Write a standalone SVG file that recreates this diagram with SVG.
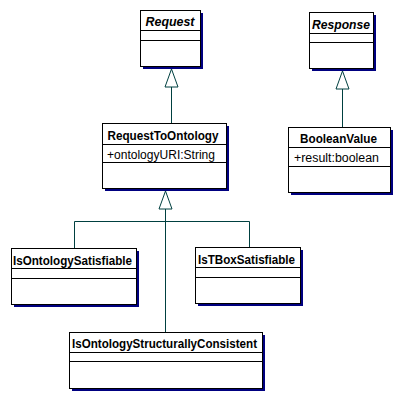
<svg xmlns="http://www.w3.org/2000/svg" width="403" height="400" viewBox="0 0 403 400">
<style>
.sh{fill:#000080}
.bx{fill:#fff;stroke:#000;stroke-width:1}
.dv{stroke:#000;stroke-width:1}
.nm{font-family:"Liberation Sans",Arial,sans-serif;font-size:12px;font-weight:bold;text-anchor:middle}
.it{font-style:italic}
.at{font-family:"Liberation Sans",Arial,sans-serif;font-size:12px}
.cn{stroke:#004040;stroke-width:1;fill:none}
.tr{stroke:#004040;stroke-width:1;fill:#fff}
</style>
<rect width="403" height="400" fill="#fff"/>
<g id="connectors">
<line class="cn" x1="171.5" y1="87" x2="171.5" y2="123"/>
<polygon class="tr" points="171.5,69 165,87 178,87"/>
<line class="cn" x1="342.5" y1="89" x2="342.5" y2="127"/>
<polygon class="tr" points="342.5,71 336,89 349,89"/>
<line class="cn" x1="165.5" y1="209" x2="165.5" y2="332"/>
<polyline class="cn" points="74.5,248 74.5,221.5 249.5,221.5 249.5,247"/>
<polygon class="tr" points="165.5,191 159,209 172,209"/>
</g>
<g id="Request">
<rect class="sh" x="143" y="13" width="60" height="56"/>
<rect class="bx" x="140.5" y="10.5" width="60" height="56"/>
<line class="dv" x1="140.5" y1="30.5" x2="200.5" y2="30.5"/>
<line class="dv" x1="140.5" y1="40.5" x2="200.5" y2="40.5"/>
<text class="nm it" x="170" y="26" textLength="49" lengthAdjust="spacingAndGlyphs">Request</text>
</g>
<g id="Response">
<rect class="sh" x="312" y="15" width="64" height="56"/>
<rect class="bx" x="309.5" y="12.5" width="64" height="56"/>
<line class="dv" x1="309.5" y1="33.5" x2="373.5" y2="33.5"/>
<line class="dv" x1="309.5" y1="42.5" x2="373.5" y2="42.5"/>
<text class="nm it" x="341" y="29" textLength="58" lengthAdjust="spacingAndGlyphs">Response</text>
</g>
<g id="RequestToOntology">
<rect class="sh" x="105" y="126" width="124" height="65"/>
<rect class="bx" x="102.5" y="123.5" width="124" height="65"/>
<line class="dv" x1="102.5" y1="144.5" x2="226.5" y2="144.5"/>
<line class="dv" x1="102.5" y1="162.5" x2="226.5" y2="162.5"/>
<text class="nm" x="163" y="140" textLength="111" lengthAdjust="spacingAndGlyphs">RequestToOntology</text>
<text class="at" x="107" y="159" textLength="108" lengthAdjust="spacingAndGlyphs">+ontologyURI:String</text>
</g>
<g id="BooleanValue">
<rect class="sh" x="291" y="130" width="102" height="65"/>
<rect class="bx" x="288.5" y="127.5" width="102" height="65"/>
<line class="dv" x1="288.5" y1="147.5" x2="390.5" y2="147.5"/>
<line class="dv" x1="288.5" y1="166.5" x2="390.5" y2="166.5"/>
<text class="nm" x="338.5" y="143" textLength="77" lengthAdjust="spacingAndGlyphs">BooleanValue</text>
<text class="at" x="294" y="162" textLength="85" lengthAdjust="spacingAndGlyphs">+result:boolean</text>
</g>
<g id="IsOntologySatisfiable">
<rect class="sh" x="14" y="251" width="125" height="56"/>
<rect class="bx" x="11.5" y="248.5" width="125" height="56"/>
<line class="dv" x1="11.5" y1="268.5" x2="136.5" y2="268.5"/>
<line class="dv" x1="11.5" y1="278.5" x2="136.5" y2="278.5"/>
<text class="nm" x="72.5" y="265" textLength="119" lengthAdjust="spacingAndGlyphs">IsOntologySatisfiable</text>
</g>
<g id="IsTBoxSatisfiable">
<rect class="sh" x="198" y="250" width="105" height="56"/>
<rect class="bx" x="195.5" y="247.5" width="105" height="56"/>
<line class="dv" x1="195.5" y1="267.5" x2="300.5" y2="267.5"/>
<line class="dv" x1="195.5" y1="277.5" x2="300.5" y2="277.5"/>
<text class="nm" x="246.5" y="264" textLength="97" lengthAdjust="spacingAndGlyphs">IsTBoxSatisfiable</text>
</g>
<g id="IsOntologyStructurallyConsistent">
<rect class="sh" x="72" y="335" width="193" height="56"/>
<rect class="bx" x="69.5" y="332.5" width="193" height="56"/>
<line class="dv" x1="69.5" y1="352.5" x2="262.5" y2="352.5"/>
<line class="dv" x1="69.5" y1="361.5" x2="262.5" y2="361.5"/>
<text class="nm" x="164.5" y="348" textLength="185" lengthAdjust="spacingAndGlyphs">IsOntologyStructurallyConsistent</text>
</g>
</svg>
